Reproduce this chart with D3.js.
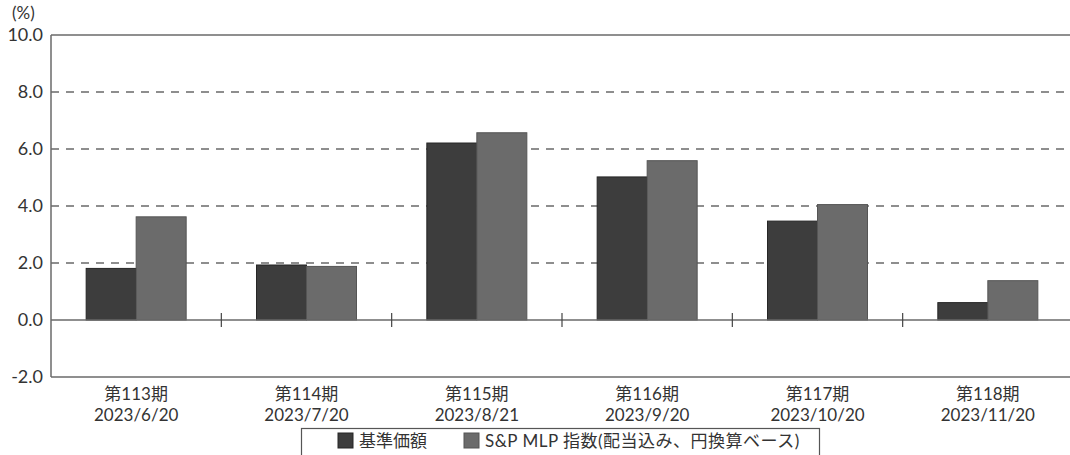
<!DOCTYPE html>
<html><head><meta charset="utf-8">
<script src="https://cdn.jsdelivr.net/npm/d3@7"></script>
<style>body{margin:0;background:#fff}svg{display:block}text{font-family:Lato,"Noto Sans CJK JP","Noto Sans",sans-serif;fill:#333}</style>
</head><body><svg id="c" width="1070" height="455"></svg>
<script>
const periods = ["第113期","第114期","第115期","第116期","第117期","第118期"];
const dates = ["2023/6/20","2023/7/20","2023/8/21","2023/9/20","2023/10/20","2023/11/20"];
const fundValues = [1.81, 1.93, 6.21, 5.02, 3.47, 0.61];
const indexValues = [3.62, 1.88, 6.57, 5.59, 4.05, 1.38];
const seriesNames = ["基準価額","S&P MLP 指数(配当込み、円換算ベース)"];
const yTicks = [-2, 0, 2, 4, 6, 8, 10];

const svg = d3.select("#c");
const L = 51, R = 1073, T = 35, B = 377;
const x = d3.scaleBand().domain(d3.range(periods.length)).range([L, R]).paddingInner(0).paddingOuter(0);
const y = d3.scaleLinear().domain([-2, 10]).range([B, T]);
const bw = 50, off = (x.bandwidth() - 2*bw)/2;
const axisCol = "#6a6a6a";

// grid
svg.append("g").selectAll("line").data(yTicks.filter(d => d > 0 && d < 10)).join("line")
  .attr("x1", L).attr("x2", R).attr("y1", d => y(d)).attr("y2", d => y(d))
  .attr("stroke", axisCol).attr("stroke-width", 1.4).attr("stroke-dasharray", "8,7");
[10, -2].forEach(v => svg.append("line").attr("x1", L).attr("x2", R).attr("y1", y(v)).attr("y2", y(v))
  .attr("stroke", axisCol).attr("stroke-width", 1.5));

// bars
const series = [fundValues, indexValues];
const fills = ["#3d3d3d", "#6b6b6b"], strokes = ["#262626", "#555"];
series.forEach((vals, s) => {
  svg.append("g").selectAll("rect").data(vals).join("rect")
    .attr("x", (d, i) => x(i) + off + s*bw)
    .attr("y", d => y(Math.max(0, d)))
    .attr("width", bw)
    .attr("height", d => Math.abs(y(d) - y(0)))
    .attr("fill", fills[s]).attr("stroke", strokes[s]).attr("stroke-width", 1);
});

svg.append("line").attr("x1", L).attr("x2", R).attr("y1", y(0)).attr("y2", y(0))
  .attr("stroke", axisCol).attr("stroke-width", 1.5);
svg.append("g").selectAll("line").data(d3.range(1, periods.length)).join("line")
  .attr("x1", i => x(i)).attr("x2", i => x(i)).attr("y1", y(0) - 7).attr("y2", y(0) + 7)
  .attr("stroke", "#444").attr("stroke-width", 1.2);
svg.append("line").attr("x1", L).attr("x2", L).attr("y1", T).attr("y2", B)
  .attr("stroke", axisCol).attr("stroke-width", 1.5);

// y labels
svg.append("g").selectAll("text").data(yTicks).join("text")
  .attr("x", 43).attr("y", d => y(d)).attr("dy", "0.36em").attr("text-anchor", "end")
  .attr("font-size", 18).text(d => d.toFixed(1));
svg.append("text").attr("x", 12).attr("y", 19).attr("font-size", 17).text("(%)");

// x labels
svg.append("g").selectAll("text").data(periods).join("text")
  .attr("text-anchor", "middle").attr("font-size", 17)
  .attr("x", (d, i) => x(i) + x.bandwidth()/2).attr("y", 400).text(d => d);
svg.append("g").selectAll("text").data(dates).join("text")
  .attr("text-anchor", "middle").attr("font-size", 17)
  .attr("x", (d, i) => x(i) + x.bandwidth()/2).attr("y", 421).text(d => d);

// legend
svg.append("rect").attr("x", 301.5).attr("y", 428.5).attr("width", 518).attr("height", 35)
  .attr("fill", "none").attr("stroke", "#555").attr("stroke-width", 1.2);
const lx = [338, 464];
seriesNames.forEach((n, s) => {
  svg.append("rect").attr("x", lx[s]).attr("y", 433).attr("width", 15).attr("height", 15)
    .attr("fill", fills[s]).attr("stroke", strokes[s]);
  svg.append("text").attr("x", lx[s] + 21).attr("y", 441).attr("dy", "0.36em")
    .attr("font-size", 17).attr("letter-spacing", s === 1 ? 0.5 : 0).text(n);
});
</script></body></html>
